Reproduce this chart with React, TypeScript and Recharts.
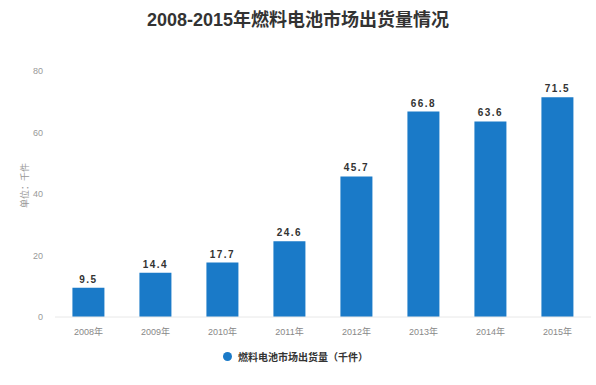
import { BarChart, Bar, XAxis, YAxis, LabelList, Legend } from "recharts";

const years = ["2008年", "2009年", "2010年", "2011年", "2012年", "2013年", "2014年", "2015年"];
const shipments = [9.5, 14.4, 17.7, 24.6, 45.7, 66.8, 63.6, 71.5];
const yTicks = [0, 20, 40, 60, 80];

const seriesName = "燃料电池市场出货量（千件）";
const barColor = "#1a7ac8";
const font = '"Liberation Sans", Arial, "Noto Sans CJK SC", sans-serif';

const data = years.map((year, i) => ({ year, value: shipments[i] }));

const LegendContent = () => (
  <div
    style={{
      display: "flex",
      justifyContent: "center",
      alignItems: "center",
      height: 30,
      fontFamily: font,
      fontSize: 10,
      fontWeight: 700,
      color: "#333",
    }}
  >
    <span
      style={{
        display: "inline-block",
        width: 9,
        height: 9,
        borderRadius: "50%",
        background: barColor,
        marginRight: 6,
      }}
    />
    {seriesName}
  </div>
);

export default function App() {
  return (
    <div style={{ position: "absolute", left: 0, top: 0, width: 596, height: 385, background: "#fff", fontFamily: font }}>
      <div
        style={{
          position: "absolute",
          left: 0,
          top: 5,
          width: 596,
          textAlign: "center",
          fontSize: 18,
          fontWeight: 700,
          color: "#333",
        }}
      >
        2008-2015年燃料电池市场出货量情况
      </div>
      <BarChart
        width={596}
        height={385}
        data={data}
        margin={{ top: 71, right: 5, bottom: 14, left: 0 }}
        barCategoryGap="26%"
      >
        <XAxis
          dataKey="year"
          height={24}
          tickLine={false}
          axisLine={{ stroke: "#e8e8e8" }}
          tick={{ fill: "#888", fontSize: 9 }}
          tickMargin={6}
        />
        <YAxis
          width={55}
          domain={[0, 80]}
          ticks={yTicks}
          tickLine={false}
          axisLine={false}
          tickSize={0}
          tickMargin={12}
          tick={{ fill: "#999", fontSize: 9 }}
          label={{ value: "单位：千件", angle: -90, position: "insideLeft", dx: 20, dy: 14, fill: "#999", fontSize: 9 }}
        />
        <Legend verticalAlign="bottom" height={30} content={<LegendContent />} />
        <Bar dataKey="value" name={seriesName} fill={barColor} isAnimationActive={false}>
          <LabelList dataKey="value" position="top" fill="#333" fontSize={10} fontWeight={700} letterSpacing={1.5} />
        </Bar>
      </BarChart>
    </div>
  );
}
